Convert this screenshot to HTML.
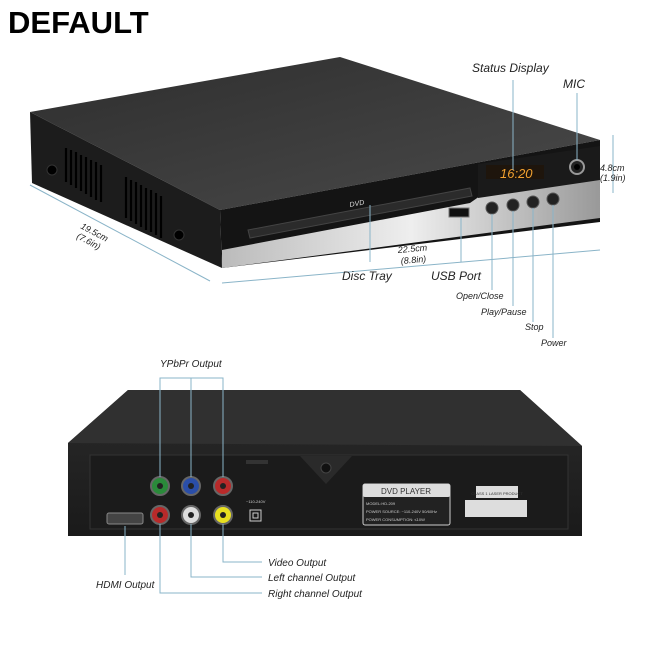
<!DOCTYPE html><html><head><style>body{margin:0;background:#fff}svg{display:block}text{font-family:"Liberation Sans",sans-serif}</style></head><body>
<svg width="650" height="650" viewBox="0 0 650 650" xmlns="http://www.w3.org/2000/svg">
<defs>
<linearGradient id="tg" x1="0" y1="0" x2="1" y2="1"><stop offset="0" stop-color="#2e2e2e"/><stop offset="1" stop-color="#4a4a4a"/></linearGradient>
<linearGradient id="sv" x1="0" y1="0" x2="1" y2="0"><stop offset="0" stop-color="#bbb"/><stop offset=".5" stop-color="#eee"/><stop offset="1" stop-color="#999"/></linearGradient>
<linearGradient id="rb" x1="0" y1="0" x2="0" y2="1"><stop offset="0" stop-color="#2b2b2b"/><stop offset="1" stop-color="#1a1a1a"/></linearGradient>
</defs>
<text x="8" y="33" font-size="31" font-weight="bold" fill="#000">DEFAULT</text>
<polygon points="30,112 340,57 600,140 220,210" fill="url(#tg)"/>
<polygon points="30,112 220,210 222,268 32,183" fill="#1c1c1c"/>
<polygon points="220,210 600,140 600,222 222,268" fill="#141414"/>
<polygon points="222,250 470,203 480,196 600,178 600,218 222,268" fill="url(#sv)"/>
<polygon points="478,164 600,146 600,180 478,198" fill="#1a1a1a"/>
<g stroke="#000" stroke-width="2.2">
<line x1="66" y1="148" x2="66" y2="182"/><line x1="71" y1="150" x2="71" y2="185"/><line x1="76" y1="152" x2="76" y2="188"/><line x1="81" y1="155" x2="81" y2="191"/><line x1="86" y1="157" x2="86" y2="194"/><line x1="91" y1="160" x2="91" y2="197"/><line x1="96" y1="162" x2="96" y2="200"/><line x1="101" y1="165" x2="101" y2="202"/>
<line x1="126" y1="177" x2="126" y2="218"/><line x1="131" y1="180" x2="131" y2="221"/><line x1="136" y1="182" x2="136" y2="224"/><line x1="141" y1="185" x2="141" y2="227"/><line x1="146" y1="188" x2="146" y2="230"/><line x1="151" y1="190" x2="151" y2="232"/><line x1="156" y1="193" x2="156" y2="235"/><line x1="161" y1="196" x2="161" y2="238"/>
</g>
<circle cx="52" cy="170" r="5" fill="#000" stroke="#333"/><circle cx="179" cy="235" r="5" fill="#000" stroke="#333"/>
<polygon points="248,230 470,188 472,196 250,238" fill="#2b2b2b" stroke="#444"/>
<text x="350" y="207" font-size="7" fill="#ddd" font-style="italic" transform="rotate(-10 350 207)">DVD</text>
<rect x="449" y="208" width="20" height="9" fill="#111" stroke="#777"/>
<rect x="486" y="165" width="58" height="14" fill="#1e150c"/>
<text x="500" y="178" font-size="13" fill="#f0a030" font-style="italic">16:20</text>
<circle cx="577" cy="167" r="7" fill="#222" stroke="#999" stroke-width="2"/><circle cx="577" cy="167" r="3" fill="#000"/>
<g fill="#222" stroke="#555"><circle cx="492" cy="208" r="6"/><circle cx="513" cy="205" r="6"/><circle cx="533" cy="202" r="6"/><circle cx="553" cy="199" r="6"/></g>
<g stroke="#8ab4c8" stroke-width="1" fill="none">
<line x1="30" y1="185" x2="210" y2="281"/><line x1="222" y1="283" x2="600" y2="250"/><line x1="613" y1="135" x2="613" y2="193"/>
<line x1="513" y1="80" x2="513" y2="170"/><line x1="577" y1="93" x2="577" y2="160"/><line x1="370" y1="205" x2="370" y2="262"/><line x1="461" y1="218" x2="461" y2="262"/>
<line x1="492" y1="214" x2="492" y2="290"/><line x1="513" y1="211" x2="513" y2="306"/><line x1="533" y1="208" x2="533" y2="322"/><line x1="553" y1="205" x2="553" y2="338"/>
</g>
<g font-size="12" fill="#222" font-style="italic">
<text x="472" y="72">Status Display</text><text x="563" y="88">MIC</text>
<text x="342" y="280">Disc Tray</text><text x="431" y="280">USB Port</text>
<text x="600" y="171" font-size="9">4.8cm</text><text x="600" y="181" font-size="9">(1.9in)</text>
<text x="398" y="253" font-size="9" transform="rotate(-5 398 253)">22.5cm</text><text x="401" y="264" font-size="9" transform="rotate(-5 401 264)">(8.8in)</text>
<text x="80" y="228" font-size="9" transform="rotate(28 80 228)">19.5cm</text><text x="76" y="238" font-size="9" transform="rotate(28 76 238)">(7.6in)</text>
<text x="456" y="299" font-size="9">Open/Close</text><text x="481" y="315" font-size="9">Play/Pause</text><text x="525" y="330" font-size="9">Stop</text><text x="541" y="346" font-size="9">Power</text>
</g>
<polygon points="128,390 520,390 582,446 582,536 68,536 68,443" fill="url(#rb)"/>
<polygon points="128,390 520,390 582,446 68,443" fill="#303030"/>
<rect x="90" y="455" width="478" height="74" fill="#1b1b1b" stroke="#333"/>
<polygon points="300,456 352,456 326,484" fill="#2a2a2a"/><circle cx="326" cy="468" r="5" fill="#111" stroke="#444"/>
<rect x="246" y="460" width="22" height="4" fill="#333"/>
<rect x="107" y="513" width="36" height="11" rx="2" fill="#444" stroke="#888"/>
<g stroke="#666" stroke-width="2">
<circle cx="160" cy="486" r="9" fill="#2a8a3a"/><circle cx="191" cy="486" r="9" fill="#2a4ea8"/><circle cx="223" cy="486" r="9" fill="#b82a2a"/>
<circle cx="160" cy="515" r="9" fill="#b82a2a"/><circle cx="191" cy="515" r="9" fill="#ddd"/><circle cx="223" cy="515" r="9" fill="#e8e020"/>
</g>
<g fill="#222"><circle cx="160" cy="486" r="3"/><circle cx="191" cy="486" r="3"/><circle cx="223" cy="486" r="3"/><circle cx="160" cy="515" r="3"/><circle cx="191" cy="515" r="3"/><circle cx="223" cy="515" r="3"/></g>
<rect x="250" y="510" width="11" height="11" fill="none" stroke="#ccc"/><rect x="253" y="513" width="5" height="5" fill="none" stroke="#ccc"/>
<text x="246" y="503" font-size="4" fill="#ccc">~110-240V</text>
<rect x="363" y="484" width="87" height="41" rx="2" fill="#222" stroke="#ccc"/>
<rect x="363" y="484" width="87" height="13" rx="2" fill="#ddd"/>
<text x="406" y="494" font-size="8" fill="#333" text-anchor="middle">DVD PLAYER</text>
<g font-size="4" fill="#ccc"><text x="366" y="505">MODEL:HD-209</text><text x="366" y="513">POWER SOURCE: ~110-240V 50/60Hz</text><text x="366" y="521">POWER CONSUMPTION: ≤10W</text></g>
<rect x="476" y="486" width="42" height="12" fill="#ddd"/><text x="497" y="495" font-size="4" fill="#333" text-anchor="middle">CLASS 1 LASER PRODUCT</text>
<rect x="465" y="500" width="62" height="17" fill="#ddd"/>
<g stroke="#8ab4c8" stroke-width="1" fill="none">
<polyline points="160,477 160,378 223,378 223,477"/><line x1="191" y1="378" x2="191" y2="477"/>
<polyline points="223,524 223,562 262,562"/><polyline points="191,524 191,577 262,577"/><polyline points="160,524 160,593 262,593"/><line x1="125" y1="526" x2="125" y2="575"/>
</g>
<g font-size="10" fill="#222" font-style="italic">
<text x="160" y="367">YPbPr Output</text><text x="268" y="566">Video Output</text><text x="268" y="581">Left channel Output</text><text x="268" y="597">Right channel Output</text><text x="96" y="588">HDMI Output</text>
</g>
</svg>
</body></html>
